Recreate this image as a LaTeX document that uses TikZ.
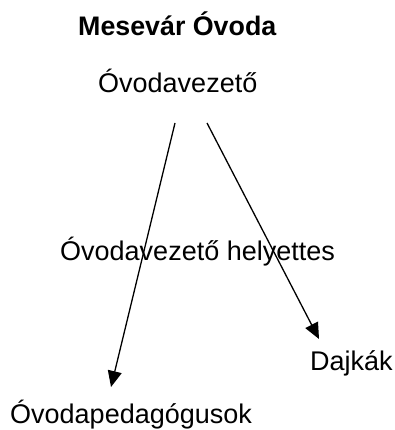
\documentclass[tikz,border=0pt]{standalone}
\usepackage{fontspec}
\setmainfont{Liberation Sans}
\usetikzlibrary{arrows.meta}
\tikzset{
  lbl/.style={anchor=base west, inner sep=0pt, font=\fontsize{27}{30}\selectfont},
  ttl/.style={anchor=base west, inner sep=0pt, font=\fontsize{26.8}{30}\selectfont\bfseries},
  link/.style={line width=1.3pt, -{Triangle[length=16pt,width=14pt]}},
}
\begin{document}
\begin{tikzpicture}[x=1pt, y=-1pt]
  \useasboundingbox (0,0) rectangle (395,430);
  \node[ttl] (title) at (78,36) {Mesevár Óvoda};
  \node[lbl] (head) at (98,92.5) {Óvodavezető};
  \node[lbl] (deputy) at (60,260) {Óvodavezető helyettes};
  \node[lbl] (nurses) at (310,370) {Dajkák};
  \node[lbl] (teachers) at (10,423) {Óvodapedagógusok};
  \coordinate (s1) at (175,123);
  \coordinate (s2) at (207,123);
  \coordinate (e1) at (111,387);
  \coordinate (e2) at (319,339);
  \draw[link] (s1) -- (e1);
  \draw[link] (s2) -- (e2);
\end{tikzpicture}
\end{document}
